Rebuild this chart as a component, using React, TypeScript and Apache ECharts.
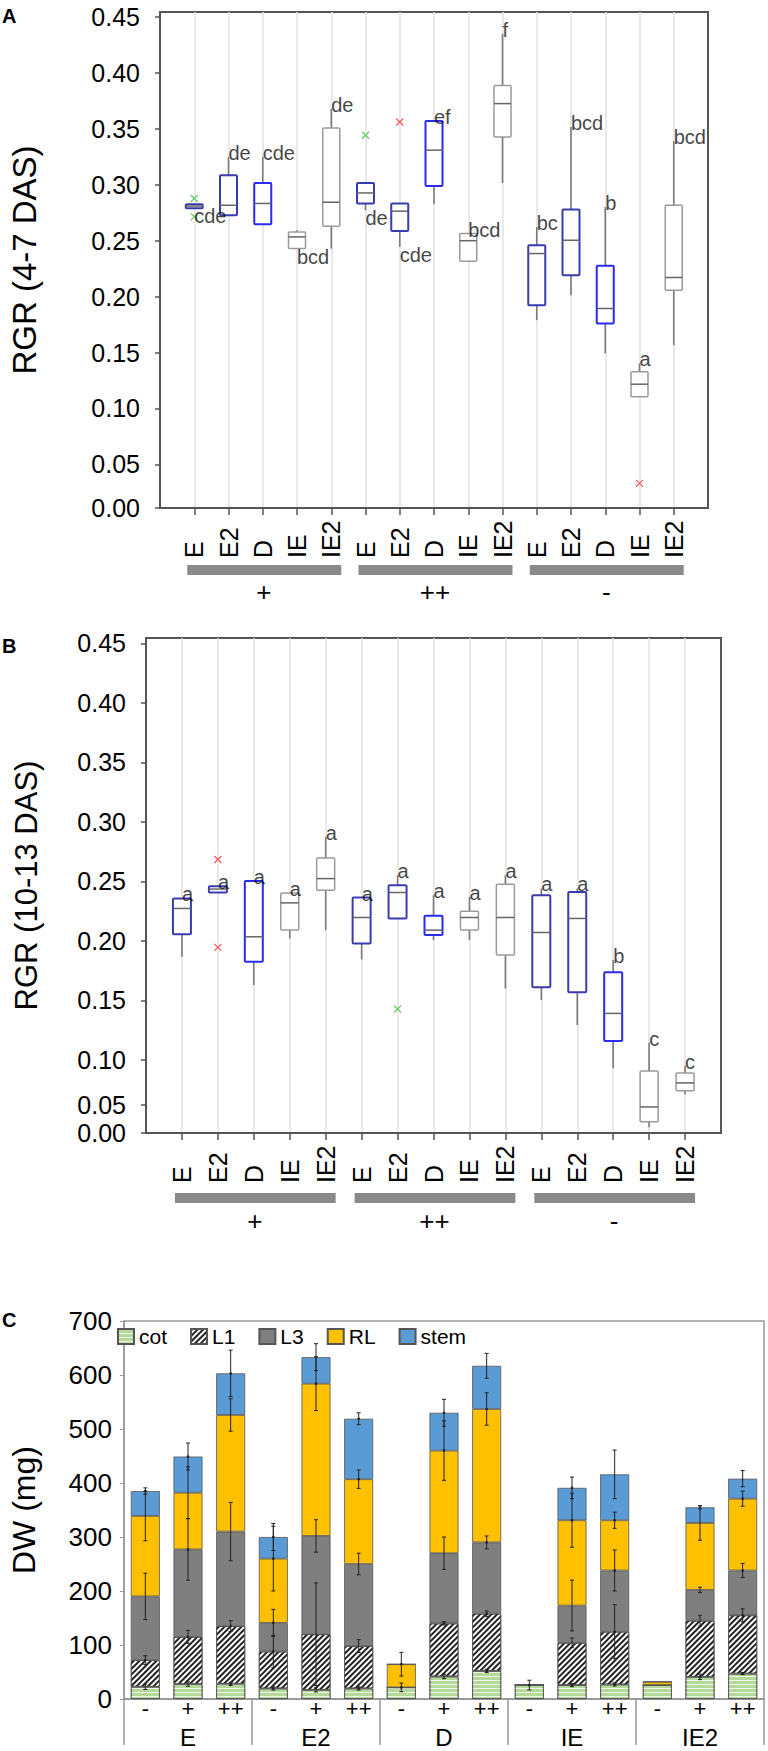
import React, { useEffect, useRef } from 'react';
import * as echarts from 'echarts';

const FONT = 'Liberation Sans, Arial, Helvetica, sans-serif';

// ---------- Panels A & B (box plots) ----------
const nutrientGroups = ['+', '++', '-'];
const treatments = ['E', 'E2', 'D', 'IE', 'IE2'];
// slot 0 and 16 are empty padding slots of the category axis
const boxCategories = ['', 'E', 'E2', 'D', 'IE', 'IE2', 'E', 'E2', 'D', 'IE', 'IE2', 'E', 'E2', 'D', 'IE', 'IE2', ''];

const yTicksA = [0.011, 0.05, 0.1, 0.15, 0.2, 0.25, 0.3, 0.35, 0.4, 0.45];
const yTicksB = [0.0385, 0.0622, 0.1, 0.15, 0.2, 0.25, 0.3, 0.35, 0.4, 0.45];

// [min, q1, median, q3, max]
const boxStatsA = [
  [0.279, 0.279, 0.281, 0.2825, 0.2825],
  [0.2728, 0.2728, 0.2817, 0.3085, 0.325],
  [0.2647, 0.2647, 0.2833, 0.3016, 0.325],
  [0.243, 0.243, 0.2534, 0.2578, 0.2594],
  [0.243, 0.263, 0.2844, 0.3508, 0.368],
  [0.2773, 0.2833, 0.2927, 0.3016, 0.3016],
  [0.2445, 0.2587, 0.2764, 0.2833, 0.2833],
  [0.2826, 0.299, 0.331, 0.357, 0.357],
  [0.2317, 0.2317, 0.25, 0.2564, 0.2564],
  [0.3016, 0.3428, 0.3726, 0.3887, 0.435],
  [0.179, 0.1924, 0.2385, 0.246, 0.2623],
  [0.2013, 0.2192, 0.2504, 0.2779, 0.3517],
  [0.1492, 0.176, 0.1894, 0.2275, 0.2802],
  [0.1104, 0.1104, 0.1217, 0.1328, 0.1403],
  [0.1566, 0.2058, 0.2171, 0.2817, 0.339],
];
const lettersA = ['cde', 'de', 'cde', 'bcd', 'de', 'de', 'cde', 'ef', 'bcd', 'f', 'bc', 'bcd', 'b', 'a', 'bcd'];
const letterSideA = ['bottom', 'top', 'top', 'bottom', 'top', 'bottom', 'bottom', 'top', 'top', 'top', 'top', 'top', 'top', 'top', 'top'];
// [slot, value, colour]
const outliersA = [
  [1, 0.2877, 'green'],
  [1, 0.2713, 'green'],
  [6, 0.3443, 'green'],
  [7, 0.3562, 'red'],
  [14, 0.033, 'red'],
];

const boxStatsB = [
  [0.1866, 0.2056, 0.2272, 0.2356, 0.2356],
  [0.2406, 0.2406, 0.2435, 0.2459, 0.2459],
  [0.1628, 0.1824, 0.2034, 0.2503, 0.2503],
  [0.202, 0.209, 0.2319, 0.2403, 0.2403],
  [0.209, 0.2425, 0.2523, 0.2696, 0.2873],
  [0.1844, 0.1978, 0.2196, 0.2364, 0.2364],
  [0.2188, 0.2188, 0.2406, 0.2467, 0.2551],
  [0.2006, 0.2048, 0.209, 0.221, 0.2383],
  [0.2006, 0.209, 0.2196, 0.2249, 0.2369],
  [0.16, 0.188, 0.2196, 0.2476, 0.2551],
  [0.1502, 0.1609, 0.207, 0.2383, 0.244],
  [0.1293, 0.1567, 0.2188, 0.2411, 0.244],
  [0.093, 0.1159, 0.139, 0.1735, 0.1838],
  [0.0433, 0.048, 0.0604, 0.0907, 0.1144],
  [0.071, 0.074, 0.0806, 0.089, 0.095],
];
const lettersB = ['a', 'a', 'a', 'a', 'a', 'a', 'a', 'a', 'a', 'a', 'a', 'a', 'b', 'c', 'c'];
const outliersB = [
  [2, 0.2683, 'red'],
  [2, 0.1945, 'red'],
  [7, 0.1427, 'green'],
];

// ---------- Panel C (stacked bars) ----------
const dwGroups = ['E', 'E2', 'D', 'IE', 'IE2'];
const dwLevels = ['-', '+', '++'];
const dwCategories = dwGroups.flatMap(() => dwLevels);
const componentNames = ['cot', 'L1', 'L3', 'RL', 'stem'];
const cot = [22.7, 27.6, 28, 19.6, 17, 19.6, 21.5, 41.7, 52, 25.8, 25.8, 27, 25.8, 41, 47];
const L1 = [49.3, 87.4, 107, 68.4, 103, 78.4, 0, 98.3, 106, 0, 78.2, 97.5, 0, 104, 108];
const L3 = [118, 162, 175, 53, 182, 152, 0, 130, 132, 0, 69, 113.5, 0, 57, 83];
const RL = [149, 105, 216, 119, 282, 157, 42.9, 190, 247, 0, 158, 93, 6.2, 124, 133];
const stem = [46, 67, 77, 40, 49, 112, 0, 70, 80, 0, 60, 85, 0, 29, 37];
const cotErr = [5, 4, 3, 3, 4, 3, 8, 4, 3, 9, 3, 3, 0, 5, 2];
const L1Err = [8, 12, 10, 30, 95, 12, 0, 3, 5, 0, 9, 50, 0, 10, 12];
const L3Err = [43, 57, 54, 25, 30, 20, 0, 30, 12, 0, 47, 38, 0, 5, 13];
const RLErr = [46, 48, 30, 60, 50, 17, 22, 55, 30, 0, 50, 15, 0, 32, 14];
const stemErr = [6, 25, 43, 25, 25, 11, 0, 25, 23, 0, 20, 45, 0, 3, 15];

const componentColors = ['#b4d99a', '#ffffff', '#7f7f7f', '#ffc000', '#5b9bd5'];

function boxColor(i: number) {
  const t = i % 5;
  if (t === 2) return '#2a2af0';
  if (t < 2) return '#3b3bb0';
  return '#9a9a9a';
}

function makeBoxSeries(stats: number[][], axisIdx: number, boxW: number) {
  return {
    type: 'custom',
    xAxisIndex: axisIdx,
    yAxisIndex: axisIdx,
    z: 3,
    data: stats.map((s, i) => [i + 1, ...s]),
    encode: { x: 0, y: [1, 2, 3, 4, 5] },
    renderItem: (params: any, api: any) => {
      const slot = api.value(0);
      const mn = api.value(1), q1 = api.value(2), md = api.value(3), q3 = api.value(4), mx = api.value(5);
      const x = api.coord([slot, md])[0];
      const y = (v: number) => api.coord([slot, v])[1];
      const i = params.dataIndex;
      const stroke = boxColor(i);
      const lw = i % 5 < 3 ? 2 : 1.5;
      const wh = { stroke: '#7a7a7a', lineWidth: 1.6 };
      const top = y(q3);
      const h = Math.max(y(q1) - top, 3);
      return {
        type: 'group',
        children: [
          { type: 'line', shape: { x1: x, y1: y(mx), x2: x, y2: top }, style: wh },
          { type: 'line', shape: { x1: x, y1: top + h, x2: x, y2: Math.max(y(mn), top + h) }, style: wh },
          { type: 'rect', shape: { x: x - boxW / 2, y: top, width: boxW, height: h, r: 1 }, style: { fill: '#fff', stroke, lineWidth: lw } },
          { type: 'line', shape: { x1: x - boxW / 2, y1: y(md), x2: x + boxW / 2, y2: y(md) }, style: { stroke: '#666', lineWidth: 1.5 } },
        ],
      };
    },
  };
}

function makeOutlierSeries(outs: any[], axisIdx: number) {
  return {
    type: 'custom',
    xAxisIndex: axisIdx,
    yAxisIndex: axisIdx,
    z: 4,
    data: outs.map((o) => [o[0], o[1]]),
    encode: { x: 0, y: 1 },
    renderItem: (params: any, api: any) => {
      const p = api.coord([api.value(0), api.value(1)]);
      const c = outs[params.dataIndex][2] === 'red' ? '#ff5a5a' : '#66cc66';
      const s = 3.5;
      const st = { stroke: c, lineWidth: 1.3 };
      return {
        type: 'group',
        children: [
          { type: 'line', shape: { x1: p[0] - s, y1: p[1] - s, x2: p[0] + s, y2: p[1] + s }, style: st },
          { type: 'line', shape: { x1: p[0] - s, y1: p[1] + s, x2: p[0] + s, y2: p[1] - s }, style: st },
        ],
      };
    },
  };
}

function makeLetterSeries(stats: number[][], letters: string[], sides: string[] | null, axisIdx: number) {
  return {
    type: 'scatter',
    xAxisIndex: axisIdx,
    yAxisIndex: axisIdx,
    symbolSize: 0,
    z: 5,
    silent: true,
    data: letters.map((l, i) => {
      const bottom = sides && sides[i] === 'bottom';
      return {
        value: [i + 1, bottom ? stats[i][0] : stats[i][4]],
        label: { formatter: l, offset: bottom ? [0, 8] : [0, -4] },
      };
    }),
    label: { show: true, position: 'right', distance: 0, fontSize: 20, color: '#111', fontFamily: FONT },
  };
}

function boxXAxis(gridIndex: number) {
  const inner = (i: number) => i > 0 && i < 16;
  return {
    type: 'category',
    gridIndex,
    data: boxCategories,
    boundaryGap: false,
    axisLine: { show: true, lineStyle: { color: '#555', width: 2 } },
    axisTick: { show: true, length: 7, interval: inner, lineStyle: { color: '#555', width: 1.5 } },
    splitLine: { show: true, interval: inner, lineStyle: { color: '#e2e2e2', width: 1.5 } },
    axisLabel: {
      interval: 0,
      rotate: 90,
      align: 'left',
      verticalAlign: 'middle',
      margin: 50,
      fontSize: 25,
      color: '#000',
      fontFamily: FONT,
    },
  };
}

function boxYAxis(gridIndex: number, min: number, ticks: number[], name: string, nameGap: number, nameSize: number) {
  return {
    type: 'value',
    gridIndex,
    min,
    max: 0.4545,
    name,
    nameLocation: 'middle',
    nameGap,
    nameTextStyle: { fontSize: nameSize, color: '#000', fontFamily: FONT },
    axisLine: { show: true, lineStyle: { color: '#555', width: 2 } },
    axisTick: { show: true, length: 5, customValues: ticks, lineStyle: { color: '#555', width: 1.5 } },
    splitLine: { show: false },
    axisLabel: {
      customValues: ticks,
      fontSize: 25,
      margin: 20,
      color: '#000',
      fontFamily: FONT,
      formatter: (v: number) => {
        if (v < ticks[1] - 0.005) return '0.00';
        if (v < 0.075) return '0.05';
        return v.toFixed(2);
      },
    },
  };
}

export default function App() {
  const ref = useRef<HTMLDivElement>(null);
  useEffect(() => {
    document.body.style.margin = '0';
    const chart = echarts.init(ref.current!, null, { renderer: 'svg' });

    const comps = [cot, L1, L3, RL, stem];
    const errs = [cotErr, L1Err, L3Err, RLErr, stemErr];
    const errData: number[][] = [];
    for (let i = 0; i < dwCategories.length; i++) {
      let cum = 0;
      comps.forEach((c, k) => {
        cum += c[i];
        if (c[i] > 0 && errs[k][i] > 0) errData.push([i, cum, errs[k][i]]);
      });
    }

    const decals: any[] = [
      { symbol: 'rect', symbolSize: 1, dashArrayX: [1, 0], dashArrayY: [1, 2.5], rotation: 0, color: 'rgba(255,255,255,0.75)' },
      { symbol: 'rect', symbolSize: 1, dashArrayX: [1, 0], dashArrayY: [2, 2], rotation: -Math.PI / 4, color: '#222' },
      null,
      null,
      null,
    ];

    const barSeries = componentNames.map((name, k) => ({
      type: 'bar',
      name,
      stack: 'dw',
      xAxisIndex: 2,
      yAxisIndex: 2,
      barWidth: 29,
      data: comps[k],
      itemStyle: {
        color: componentColors[k],
        borderColor: '#555',
        borderWidth: 0.8,
        ...(decals[k] ? { decal: decals[k] } : {}),
      },
    }));

    const option: any = {
      animation: false,
      textStyle: { fontFamily: FONT },
      grid: [
        { left: 151, top: 12, width: 557, height: 496, show: true, borderColor: '#555', borderWidth: 2, backgroundColor: 'transparent' },
        { left: 146, top: 638, width: 575, height: 495, show: true, borderColor: '#555', borderWidth: 2, backgroundColor: 'transparent' },
        { left: 103, top: 1321, width: 661, height: 378, show: true, borderColor: '#999', borderWidth: 1.5, backgroundColor: 'transparent' },
      ],
      legend: {
        data: componentNames,
        left: 117,
        top: 1326,
        itemWidth: 16,
        itemHeight: 15,
        itemGap: 23,
        icon: 'rect',
        padding: 0,
        textStyle: { fontSize: 21, color: '#000', fontFamily: FONT },
      },
      xAxis: [
        boxXAxis(0),
        boxXAxis(1),
        {
          type: 'category',
          gridIndex: 2,
          data: dwCategories,
          axisLine: { show: true, lineStyle: { color: '#999', width: 2 } },
          axisTick: { show: false },
          axisLabel: { interval: 0, fontSize: 22, lineHeight: 18, margin: 0, color: '#000', fontFamily: FONT },
        },
        {
          type: 'category',
          gridIndex: 2,
          position: 'bottom',
          data: dwGroups,
          axisLine: { show: false },
          axisTick: { show: true, length: 46, lineStyle: { color: '#999', width: 1.5 } },
          axisLabel: { interval: 0, fontSize: 24, lineHeight: 22, margin: 27, color: '#000', fontFamily: FONT },
          splitLine: { show: false },
        },
      ],
      yAxis: [
        boxYAxis(0, 0.011, yTicksA, 'RGR (4-7 DAS)', 119, 33),
        boxYAxis(1, 0.0385, yTicksB, 'RGR (10-13 DAS)', 104, 31),
        {
          type: 'value',
          gridIndex: 2,
          min: 0,
          max: 700,
          interval: 100,
          name: 'DW (mg)',
          nameLocation: 'middle',
          nameGap: 84,
          nameTextStyle: { fontSize: 32, color: '#000', fontFamily: FONT },
          axisLine: { show: true, lineStyle: { color: '#999', width: 1.5 } },
          axisTick: { show: true, length: 4, lineStyle: { color: '#999' } },
          splitLine: { show: false },
          axisLabel: { fontSize: 26, margin: 12, color: '#000', fontFamily: FONT },
        },
      ],
      series: [
        makeBoxSeries(boxStatsA, 0, 17),
        makeOutlierSeries(outliersA, 0),
        makeLetterSeries(boxStatsA, lettersA, letterSideA, 0),
        makeBoxSeries(boxStatsB, 1, 18),
        makeOutlierSeries(outliersB, 1),
        makeLetterSeries(boxStatsB, lettersB, null, 1),
        ...barSeries,
        {
          type: 'custom',
          xAxisIndex: 2,
          yAxisIndex: 2,
          z: 10,
          data: errData,
          encode: { x: 0, y: 1 },
          renderItem: (params: any, api: any) => {
            const idx = api.value(0), v = api.value(1), e = api.value(2);
            const pt = api.coord([idx, v + e]);
            const pb = api.coord([idx, v - e]);
            const pc = api.coord([idx, v]);
            const st = { stroke: '#222', lineWidth: 1 };
            return {
              type: 'group',
              children: [
                { type: 'line', shape: { x1: pt[0], y1: pt[1], x2: pb[0], y2: pb[1] }, style: st },
                { type: 'line', shape: { x1: pt[0] - 2, y1: pt[1], x2: pt[0] + 2, y2: pt[1] }, style: st },
                { type: 'line', shape: { x1: pb[0] - 2, y1: pb[1], x2: pb[0] + 2, y2: pb[1] }, style: st },
                { type: 'circle', shape: { cx: pc[0], cy: pc[1], r: 1.3 }, style: { fill: '#222' } },
              ],
            };
          },
        },
      ],
    };

    chart.setOption(option);

    // group bars and labels under panels A and B
    const graphics: any[] = [
      { type: 'text', left: 2, top: 6, style: { text: 'A', font: `bold 20px ${FONT}`, fill: '#000' } },
      { type: 'text', left: 2, top: 636, style: { text: 'B', font: `bold 20px ${FONT}`, fill: '#000' } },
      { type: 'text', left: 2, top: 1310, style: { text: 'C', font: `bold 20px ${FONT}`, fill: '#000' } },
    ];
    const panels = [
      { axis: 0, barY: 565, labelY: 592 },
      { axis: 1, barY: 1193, labelY: 1221 },
    ];
    panels.forEach((p) => {
      nutrientGroups.forEach((g, gi) => {
        const first = chart.convertToPixel({ xAxisIndex: p.axis }, gi * treatments.length + 1) as number;
        const last = chart.convertToPixel({ xAxisIndex: p.axis }, gi * treatments.length + treatments.length) as number;
        graphics.push({
          type: 'rect',
          shape: { x: first - 7, y: p.barY, width: last - first + 17, height: 10 },
          style: { fill: '#8a8a8a' },
        });
        graphics.push({
          type: 'text',
          x: (first + last) / 2 + 1,
          y: p.labelY,
          style: { text: g, font: `26px ${FONT}`, fill: '#000', textAlign: 'center', textVerticalAlign: 'middle' },
        });
      });
    });
    chart.setOption({ graphic: graphics });

    return () => chart.dispose();
  }, []);
  return <div ref={ref} style={{ position: 'absolute', left: 0, top: 0, width: 768, height: 1751 }} />;
}
